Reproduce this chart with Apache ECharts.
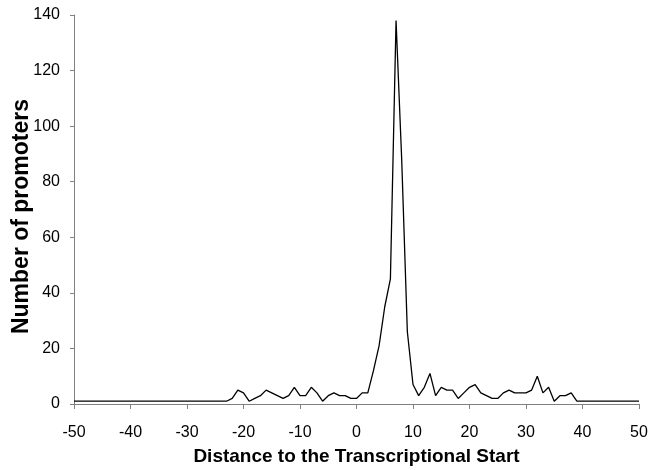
<!DOCTYPE html>
<html>
<head>
<meta charset="utf-8">
<script src="https://cdn.jsdelivr.net/npm/echarts@6/dist/echarts.min.js"></script>
<style>
html,body{margin:0;padding:0;background:#fff;}
#chart{width:662px;height:470px;}
</style>
</head>
<body>
<div id="chart"></div>
<script>
var distances = [-50,-49,-48,-47,-46,-45,-44,-43,-42,-41,-40,-39,-38,-37,-36,-35,-34,-33,-32,-31,-30,-29,-28,-27,-26,-25,-24,-23,-22,-21,-20,-19,-18,-17,-16,-15,-14,-13,-12,-11,-10,-9,-8,-7,-6,-5,-4,-3,-2,-1,0,1,2,3,4,5,6,7,8,9,10,11,12,13,14,15,16,17,18,19,20,21,22,23,24,25,26,27,28,29,30,31,32,33,34,35,36,37,38,39,40,41,42,43,44,45,46,47,48,49,50];
var promoters = [1,1,1,1,1,1,1,1,1,1,1,1,1,1,1,1,1,1,1,1,1,1,1,1,1,1,1,1,
  2,5,4,1,2,3,5,4,3,2,3,6,3,3,6,4,1,3,4,3,3,2,2,4,4,12,21,35,45,138,88,26,7,3,6,11,3,6,5,5,2,4,6,7,4,3,2,2,4,5,4,4,4,5,10,4,6,1,3,3,4,1,
  1,1,1,1,1,1,1,1,1,1,1];
var xTicks = {min:-50, max:50, step:10};
var yTicks = {min:0, max:140, step:20};

var chart = echarts.init(document.getElementById('chart'), null, {renderer:'canvas'});
var font = 'Liberation Sans, Arial, sans-serif';
chart.setOption({
  animation:false,
  backgroundColor:'#fff',
  grid:{left:74, right:23, top:15, bottom:66, containLabel:false, outerBoundsMode:'none'},
  xAxis:{
    type:'value', min:xTicks.min, max:xTicks.max, interval:xTicks.step,
    name:'Distance to the Transcriptional Start', nameLocation:'middle', nameGap:43,
    nameMoveOverlap:false,
    nameTextStyle:{fontFamily:font, fontSize:19, fontWeight:'bold', color:'#000'},
    axisLine:{show:true, onZero:false, lineStyle:{color:'#808080', width:1}},
    axisTick:{show:true, inside:false, length:5, lineStyle:{color:'#808080'}},
    axisLabel:{fontFamily:font, fontSize:16, color:'#000', margin:21},
    splitLine:{show:false}
  },
  yAxis:{
    type:'value', min:yTicks.min, max:yTicks.max, interval:yTicks.step,
    name:'Number of promoters', nameLocation:'middle', nameGap:41,
    nameMoveOverlap:false,
    nameTextStyle:{fontFamily:font, fontSize:23, fontWeight:'bold', color:'#000', padding:[0,14,0,0]},
    axisLine:{show:true, onZero:false, lineStyle:{color:'#808080', width:1}},
    axisTick:{show:true, inside:false, length:4, lineStyle:{color:'#808080'}},
    axisLabel:{fontFamily:font, fontSize:16, color:'#000', margin:14},
    splitLine:{show:false}
  },
  series:[{
    type:'line',
    data: distances.map(function(d,i){return [d, promoters[i]];}),
    showSymbol:false,
    symbol:'none',
    lineStyle:{color:'#000', width:1.3},
    z:3
  }]
});
</script>
</body>
</html>
